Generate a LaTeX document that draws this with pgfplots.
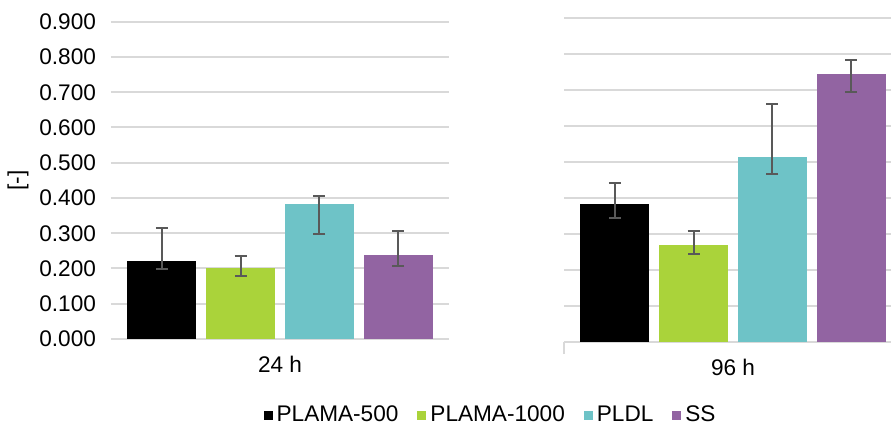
\documentclass[border=0pt]{standalone}
\usepackage{pgfplots}
\pgfplotsset{compat=1.18}
\usepackage{fontspec}
\setmainfont{Liberation Sans}
\definecolor{cBlack}{HTML}{000000}
\definecolor{cGreen}{HTML}{AAD33A}
\definecolor{cTeal}{HTML}{6EC3C7}
\definecolor{cPurple}{HTML}{9264A2}
\definecolor{cGrid}{HTML}{D9D9D9}
\definecolor{cErr}{HTML}{595959}
\newcommand{\cf}{\fontsize{11.3}{13.5}\selectfont}
\pgfplotsset{
  panel/.style={
    scale only axis,
    ymin=0, ymax=0.9,
    ytick={0,0.1,...,0.9},
    ymajorgrids,
    grid style={cGrid, line width=1pt},
    axis y line*=left,
    y axis line style={draw=none},
    axis x line*=bottom,
    x axis line style={cGrid, line width=1pt, -},
    xtick={2.5},
    major tick length=0pt,
    tick label style={font=\cf, text=black},
    xticklabel style={yshift=-5pt},
    /pgf/number format/assume math mode=true,
    /pgf/number format/.cd, fixed, fixed zerofill, precision=3, /pgfplots/.cd,
    ybar, bar width=34.5pt, bar shift=0pt,
    every axis plot/.append style={draw=none},
    error bars/y dir=both, error bars/y explicit,
    error bars/error bar style={cErr, line width=1pt},
    error bars/error mark options={cErr, line width=1pt, mark size=3pt, rotate=90},
    clip=false,
  }
}
\begin{document}
\begin{tikzpicture}
\useasboundingbox (0,0) rectangle (445.5pt,212.5pt);
% left panel
\begin{axis}[panel,
  at={(55.5pt,43pt)}, anchor=south west,
  width=169pt, height=158.65pt,
  xmin=0.354, xmax=4.646,
  xticklabels={24 h},
  yticklabel style={xshift=-4pt},
  ylabel={[-]},
  ylabel style={font=\cf, at={(rel axis cs:0,0.5)}, anchor=center, yshift=46.5pt},
  legend style={at={(rel axis cs:1.126,-0.24)}, anchor=center, draw=none, fill=none,
    legend columns=-1, font=\cf,
    /tikz/every even column/.append style={column sep=7.5pt}},
  legend image code/.code={\fill[#1] (0pt,-2.25pt) rectangle (4.5pt,2.25pt);},
]
\addplot[fill=cBlack] coordinates {(1,0.221) += (0,0.095) -= (0,0.022)};
\addlegendentry{PLAMA-500}
\addplot[fill=cGreen] coordinates {(2,0.201) += (0,0.034) -= (0,0.021)};
\addlegendentry{PLAMA-1000}
\addplot[fill=cTeal] coordinates {(3,0.383) += (0,0.023) -= (0,0.085)};
\addlegendentry{PLDL}
\addplot[fill=cPurple] coordinates {(4,0.238) += (0,0.069) -= (0,0.031)};
\addlegendentry{SS}
\end{axis}
% right panel
\begin{axis}[panel,
  at={(282pt,41.5pt)}, anchor=south west,
  width=163.5pt, height=161.85pt,
  xmin=0.352, xmax=4.508,
  xticklabels={96 h},
  yticklabels={},
  extra x ticks={0.352}, extra x tick labels={},
  extra x tick style={major tick length=6pt, tick align=outside, tick style={cGrid, line width=1pt}},
]
\addplot[fill=cBlack] coordinates {(1,0.383) += (0,0.059) -= (0,0.039)};
\addplot[fill=cGreen] coordinates {(2,0.269) += (0,0.040) -= (0,0.023)};
\addplot[fill=cTeal] coordinates {(3,0.514) += (0,0.147) -= (0,0.047)};
\addplot[fill=cPurple] coordinates {(4,0.744) += (0,0.040) -= (0,0.048)};
\end{axis}
\end{tikzpicture}
\end{document}
